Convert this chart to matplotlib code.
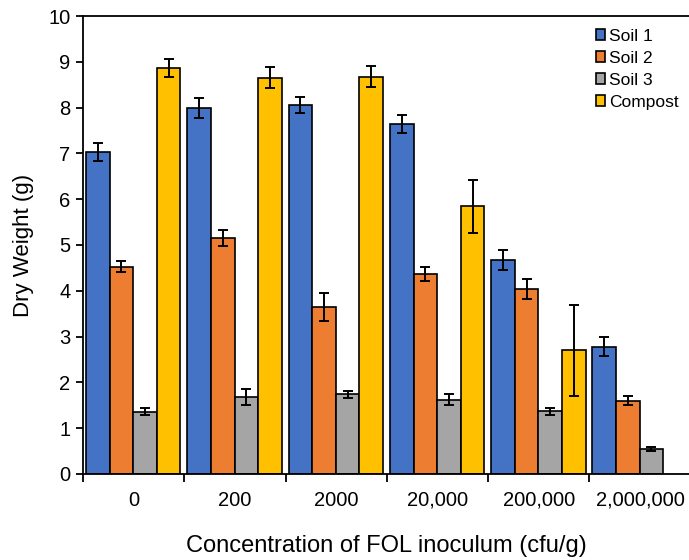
import numpy as np
import matplotlib.pyplot as plt

plt.rcParams['font.family'] = ['Liberation Sans', 'DejaVu Sans']

groups = ['0', '200', '2000', '20,000', '200,000', '2,000,000']
series = ['Soil 1', 'Soil 2', 'Soil 3', 'Compost']
colors = ['#4472C4', '#ED7D31', '#A5A5A5', '#FFC000']

soil1 = [7.03, 7.99, 8.06, 7.64, 4.67, 2.78]
soil2 = [4.53, 5.15, 3.65, 4.37, 4.04, 1.60]
soil3 = [1.36, 1.68, 1.74, 1.62, 1.37, 0.55]
compost = [8.86, 8.65, 8.67, 5.85, 2.70, np.nan]

soil1_err = [0.20, 0.22, 0.18, 0.19, 0.22, 0.21]
soil2_err = [0.13, 0.17, 0.31, 0.15, 0.22, 0.10]
soil3_err = [0.08, 0.17, 0.08, 0.12, 0.08, 0.05]
compost_err = [0.20, 0.23, 0.23, 0.58, 1.0, np.nan]

vals = [soil1, soil2, soil3, compost]
errs = [soil1_err, soil2_err, soil3_err, compost_err]

fig = plt.figure(figsize=(6.89, 5.6), dpi=100)
ax = fig.add_axes([0.1205, 0.1536, 0.882, 0.8178])

x = np.arange(len(groups))
w = 0.233
for j in range(4):
    ax.bar(x + 0.03 + j*w, vals[j], w, yerr=errs[j], align='edge', color=colors[j],
           edgecolor='black', linewidth=1.2, label=series[j],
           error_kw=dict(ecolor='black', elinewidth=1.4, capsize=3.5, capthick=1.4))

ax.set_xlim(0, 6)
ax.set_ylim(0, 10)
ax.set_yticks(range(0, 11))
ax.set_xticks(np.arange(0, 7))
ax.set_xticklabels([])
ax.set_xticks(x + 0.5, minor=True)
ax.set_xticklabels(groups, minor=True)
ax.tick_params(axis='x', which='minor', length=0, pad=12, labelsize=14.5)
ax.tick_params(axis='x', which='major', length=6, width=1.3)
ax.tick_params(axis='y', length=5, width=1.3, labelsize=14.5, pad=4)
for s in ['left', 'bottom', 'top']:
    ax.spines[s].set_linewidth(1.3)
ax.spines['right'].set_visible(False)

ax.set_ylabel('Dry Weight (g)', fontsize=16, labelpad=10)
ax.set_xlabel('Concentration of FOL inoculum (cfu/g)', fontsize=17, labelpad=18)

ax.legend(loc='upper right', bbox_to_anchor=(0.997, 0.995), frameon=False, fontsize=12.5,
          handlelength=0.55, handleheight=0.55, handletextpad=0.2, labelspacing=0.4,
          borderaxespad=0.2)

fig.savefig('out.png', dpi=100)
